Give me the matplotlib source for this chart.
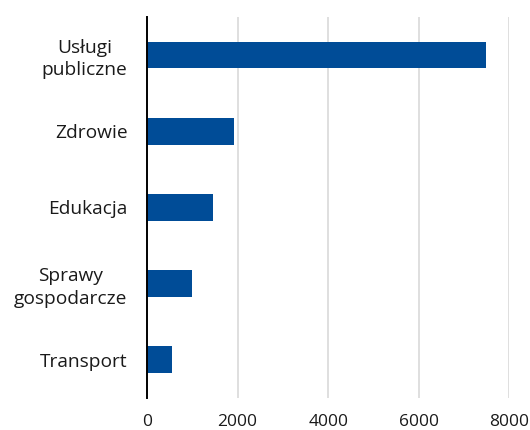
import matplotlib
matplotlib.use("Agg")
import matplotlib.pyplot as plt

# data
categories = ["Usługi\npubliczne", "Zdrowie", "Edukacja", "Sprawy\ngospodarcze", "Transport"]
values = [7490, 1915, 1465, 985, 560]
x_ticks = [0, 2000, 4000, 6000, 8000]

BAR_COLOR = "#004C97"
GRID_COLOR = "#D9D9D9"

plt.rcParams["font.family"] = ["Open Sans", "DejaVu Sans"]

fig = plt.figure(figsize=(5.3, 4.3), dpi=100)
ax = fig.add_axes([0.2774, 0.0751, 0.6836, 0.8854])

pos = list(range(len(categories)))
ax.barh(pos, values, height=0.35, color=BAR_COLOR, zorder=3)

ax.set_ylim(len(categories) - 0.5, -0.5)
ax.set_xlim(0, 8000)
ax.set_yticks(pos)
ax.set_yticklabels(categories, fontsize=13.8, color="#1a1a1a",
                   linespacing=1.3, multialignment="center")
ax.set_xticks(x_ticks)
ax.set_xticklabels([str(t) for t in x_ticks], fontsize=12.5, color="#1a1a1a")

ax.tick_params(axis="both", length=0)
ax.tick_params(axis="y", pad=14)
ax.tick_params(axis="x", pad=12)

ax.grid(axis="x", color=GRID_COLOR, linewidth=1.2, zorder=0)
ax.set_axisbelow(True)

for side in ["top", "right", "bottom"]:
    ax.spines[side].set_visible(False)
ax.spines["left"].set_color("black")
ax.spines["left"].set_linewidth(1.4)
ax.spines["left"].set_zorder(4)

fig.savefig("out.png", dpi=100)
